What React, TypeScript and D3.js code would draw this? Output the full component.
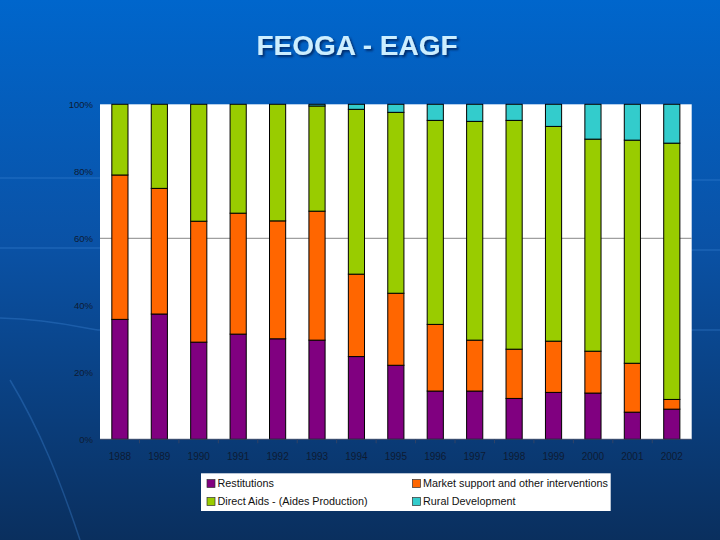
import React from "react";
import * as d3 from "d3";

const years = ["1988","1989","1990","1991","1992","1993","1994","1995","1996","1997","1998","1999","2000","2001","2002"];
const restitutions = [35.8,37.4,29.0,31.4,30.0,29.6,24.7,22.1,14.4,14.4,12.2,14.0,13.8,8.1,9.0];
const marketSupport = [43.1,37.5,36.1,36.1,35.2,38.5,24.6,21.5,19.9,15.2,14.7,15.3,12.5,14.6,2.9];
const directAids = [21.1,25.1,34.9,32.5,34.8,31.4,49.2,54.0,60.9,65.3,68.3,64.1,63.3,66.6,76.5];
const ruralDev = [0,0,0,0,0,0.5,1.5,2.4,4.8,5.1,4.8,6.6,10.4,10.7,11.6];
const seriesNames = ["Restitutions","Market support and other interventions","Direct Aids - (Aides Production)","Rural Development"];
const seriesColors = ["#800080","#FF6600","#99CC00","#33CCCC"];
const yTicks = [0,20,40,60,80,100];
const title = "FEOGA - EAGF";

export default function App() {
  const W = 720, H = 540;
  const left = 100, right = 691.7, top = 104.3, bottom = 439.3;
  const x = d3.scaleBand<string>().domain(years).range([left, right]).paddingInner(0.59).paddingOuter(0.3);
  const y = d3.scaleLinear().domain([0, 100]).range([bottom, top]);
  const rows = years.map((yr, i) => ({
    year: yr,
    s0: restitutions[i], s1: marketSupport[i], s2: directAids[i], s3: ruralDev[i],
  }));
  const stack = d3.stack<any>().keys(["s0","s1","s2","s3"]);
  const layers = stack(rows);
  const font = "'Liberation Sans', Arial, sans-serif";

  return (
    <svg width={W} height={H} style={{ position: "absolute", left: 0, top: 0 }} fontFamily={font}>
      <defs>
        <linearGradient id="bg" x1="0" y1="0" x2="0" y2="1">
          <stop offset="0" stopColor="#0066CC" />
          <stop offset="0.45" stopColor="#0A52A6" />
          <stop offset="1" stopColor="#0A2F5E" />
        </linearGradient>
        <filter id="sh" x="-10%" y="-10%" width="130%" height="140%">
          <feDropShadow dx="2" dy="2" stdDeviation="0.8" floodColor="#002a66" floodOpacity="0.9" />
        </filter>
      </defs>
      <rect x={0} y={0} width={W} height={H} fill="url(#bg)" />
      <g stroke="#3f86d6" strokeOpacity={0.35} fill="none" strokeWidth={1.5}>
        <path d="M0,178 L100,178" />
        <path d="M0,248 L100,248" />
        <path d="M0,318 C 60,320 90,330 100,330" />
        <path d="M10,380 C 40,430 60,480 80,540" />
        <path d="M691,180 L720,180" />
        <path d="M691,250 L720,250" />
        <path d="M691,330 L720,330" />
      </g>
      <text x={357} y={55} textAnchor="middle" fontSize={28} fontWeight="bold" fill="#CCEEFF" filter="url(#sh)">{title}</text>
      <rect x={left} y={top} width={right - left} height={bottom - top} fill="#FFFFFF" />
      <line x1={left} x2={right} y1={y(60)} y2={y(60)} stroke="#888888" strokeWidth={1} />
      {layers.map((layer, li) => (
        <g key={li}>
          {layer.map((d: any, i: number) => {
            const h = y(d[0]) - y(d[1]);
            if (h <= 0) return null;
            return (
              <rect key={i} x={x(years[i])} y={y(d[1])} width={x.bandwidth()} height={h}
                fill={seriesColors[li]} stroke="#000000" strokeWidth={1} />
            );
          })}
        </g>
      ))}
      <line x1={left} x2={right} y1={bottom} y2={bottom} stroke="#334466" strokeWidth={1} />
      {years.map((yr, i) => {
        const bx = left + (i + 1) * (right - left) / years.length;
        return i < years.length - 1 ? <line key={"t" + i} x1={bx} x2={bx} y1={bottom} y2={bottom + 4} stroke="#334466" /> : null;
      })}
      {yTicks.map(t => (
        <text key={t} x={93} y={y(t)} dy="0.35em" textAnchor="end" fontSize={9.5} fill="#0D1B33">{t + "%"}</text>
      ))}
      {years.map(yr => (
        <text key={yr} x={(x(yr) as number) + x.bandwidth() / 2} y={456} dy="0.35em" textAnchor="middle" fontSize={10} fill="#0D1B33">{yr}</text>
      ))}
      <rect x={201} y={473.3} width={409.7} height={37.7} fill="#FFFFFF" />
      {seriesNames.map((name, i) => {
        const lx = i % 2 === 0 ? 207 : 412.5;
        const ly = i < 2 ? 483.5 : 501.5;
        return (
          <g key={name}>
            <rect x={lx} y={ly - 4} width={8} height={8} fill={seriesColors[i]} stroke="#333333" strokeWidth={0.7} />
            <text x={lx + 10.5} y={ly} dy="0.35em" fontSize={10.8} fill="#111111">{name}</text>
          </g>
        );
      })}
    </svg>
  );
}
